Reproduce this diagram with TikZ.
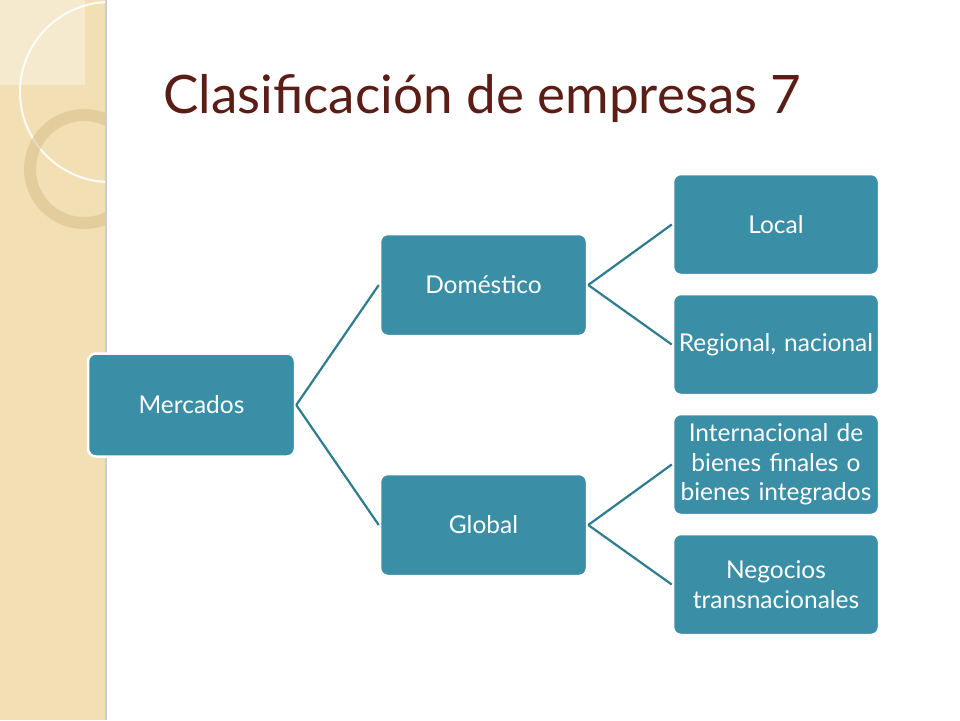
\documentclass[tikz,border=0pt]{standalone}
\usepackage{fontspec}
\setmainfont{Lato}
\definecolor{stripe}{HTML}{F2DFB4}
\definecolor{boxfill}{HTML}{3A8FA6}
\definecolor{linec}{HTML}{2E7D8E}
\definecolor{titlec}{HTML}{5A1E16}
\definecolor{ringc}{HTML}{D9C08A}
\begin{document}
\begin{tikzpicture}[x=1pt,y=-1pt,
  cbox/.style={rectangle, rounded corners=8pt, fill=boxfill, draw=white, line width=2.5pt,
    minimum width=207pt, minimum height=102pt, inner sep=1pt, text=white,
    font=\fontsize{24.5}{29.5}\selectfont, align=center, text width=204pt},
  conn/.style={draw=linec, line width=2.2pt}]
\fill[white] (0,0) rectangle (960,720);
\useasboundingbox (0,0) rectangle (960,720);
% left stripe
\fill[stripe] (0,0) rectangle (105,720);
\fill[black!20] (105,0) rectangle (107,720);
\begin{scope}
\clip (0,0) rectangle (105,720);
\fill[white, opacity=0.35] (0,0) rectangle (85,85);
\draw[white, line width=2pt, opacity=0.9] (110,92) circle (90);
\draw[ringc, line width=12pt, opacity=0.55] (84,169) circle (54);
\end{scope}
% title
\node[anchor=base west, text=titlec, font=\fontsize{53}{60}\selectfont, inner sep=0pt] (title) at (163,113) {Clasificación de empresas 7};
% boxes
\node[cbox, minimum height=103pt] (merc) at (191.5,405) {Mercados};
\node[cbox] (dom) at (483.5,285) {Doméstico};
\node[cbox] (glob) at (483.5,525) {Global};
\node[cbox, minimum width=206pt, minimum height=101pt] (loc) at (776,224.5) {Local};
\node[cbox, minimum width=206pt, minimum height=101pt] (reg) at (776,344.5) {Regional, nacional};
\node[cbox, minimum width=206pt, minimum height=101pt] (intl) at (776,464.5) {Internacional de\\bienes finales o\\bienes integrados};
\node[cbox, minimum width=206pt, minimum height=101pt] (neg) at (776,584.5) {Negocios\\transnacionales};
% connectors
\draw[conn] (merc.east) -- (dom.west);
\draw[conn] (merc.east) -- (glob.west);
\draw[conn] (dom.east) -- (loc.west);
\draw[conn] (dom.east) -- (reg.west);
\draw[conn] (glob.east) -- (intl.west);
\draw[conn] (glob.east) -- (neg.west);
\end{tikzpicture}
\end{document}
